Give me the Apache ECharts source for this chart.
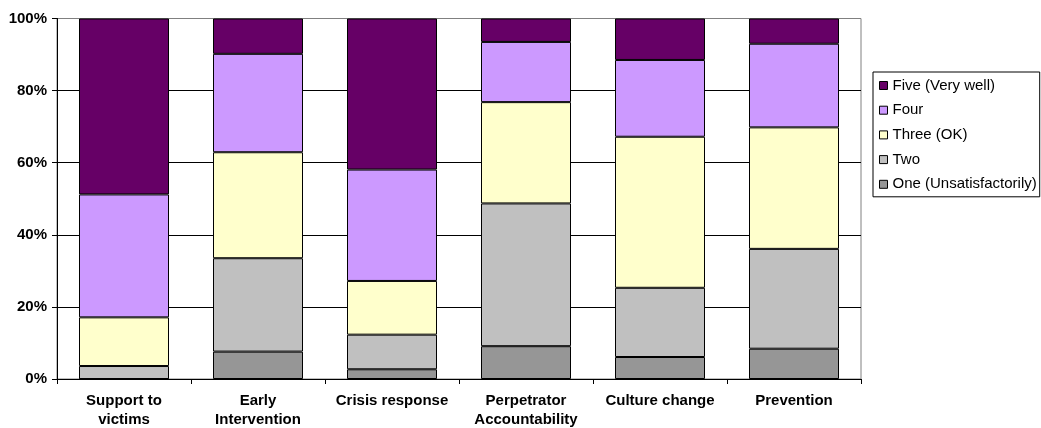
<!DOCTYPE html>
<html>
<head>
<meta charset="utf-8">
<script src="https://cdn.jsdelivr.net/npm/echarts@6/dist/echarts.min.js"></script>
<style>
html,body{margin:0;padding:0;background:#fff;}
#chart{width:1041px;height:428px;}
</style>
</head>
<body>
<div id="chart"></div>
<script>
const categories = ['Support to\nvictims', 'Early\nIntervention', 'Crisis response', 'Perpetrator\nAccountability', 'Culture change', 'Prevention'];
const seriesNames = ['One (Unsatisfactorily)', 'Two', 'Three (OK)', 'Four', 'Five (Very well)'];
const one   = [0.0, 7.6, 2.7, 9.1, 6.1, 8.4];
const two   = [3.6, 25.9, 9.6, 39.6, 19.2, 27.7];
const three = [13.5, 29.4, 14.9, 28.1, 41.9, 33.7];
const four  = [34.1, 27.3, 30.9, 16.7, 21.3, 23.2];
const five  = [48.8, 9.8, 41.9, 6.5, 11.5, 7.0];
const yTicks = [0, 20, 40, 60, 80, 100];

const colors = ['#969696', '#C0C0C0', '#FFFFCC', '#CC99FF', '#660066'];
const values = [one, two, three, four, five];
const FONT = "'Liberation Sans', Arial, sans-serif";

const chart = echarts.init(document.getElementById('chart'), null, {renderer: 'canvas'});
chart.setOption({
  animation: false,
  backgroundColor: '#fff',
  grid: {left: 57, top: 18.5, right: 180, bottom: 49, outerBoundsMode: 'none', containLabel: false, show: true, borderColor: '#808080', borderWidth: 1, backgroundColor: 'transparent'},
  legend: {
    orient: 'vertical',
    left: 873, top: 72,
    data: seriesNames.slice().reverse(),
    icon: 'rect',
    itemWidth: 8, itemHeight: 8,
    itemGap: 9.7,
    padding: [6, 3, 5, 6],
    borderColor: '#000', borderWidth: 1,
    itemStyle: {borderColor: '#000', borderWidth: 1},
    textStyle: {fontFamily: FONT, fontSize: 15, color: '#000', lineHeight: 15}
  },
  xAxis: {
    type: 'category',
    data: categories,
    axisLine: {lineStyle: {color: '#000', width: 1}},
    axisTick: {show: true, length: 5, lineStyle: {color: '#000'}},
    axisLabel: {interval: 0, margin: 12.5, fontFamily: FONT, fontSize: 15, fontWeight: 'bold', color: '#000', lineHeight: 19}
  },
  yAxis: {
    type: 'value',
    min: yTicks[0], max: yTicks[yTicks.length - 1], interval: 20,
    axisLine: {show: true, lineStyle: {color: '#000', width: 1}},
    axisTick: {show: true, length: 5, lineStyle: {color: '#000'}},
    axisLabel: {margin: 10, formatter: '{value}%', fontFamily: FONT, fontSize: 15, fontWeight: 'bold', color: '#000'},
    splitLine: {show: true, lineStyle: {color: ['#000', '#000', '#000', '#000', '#000', '#808080'], width: 1}}
  },
  series: seriesNames.map((name, i) => ({
    name: name,
    type: 'bar',
    stack: 'total',
    barWidth: 90,
    data: values[i],
    itemStyle: {color: colors[i], borderColor: '#000', borderWidth: 1}
  }))
});
</script>
</body>
</html>
